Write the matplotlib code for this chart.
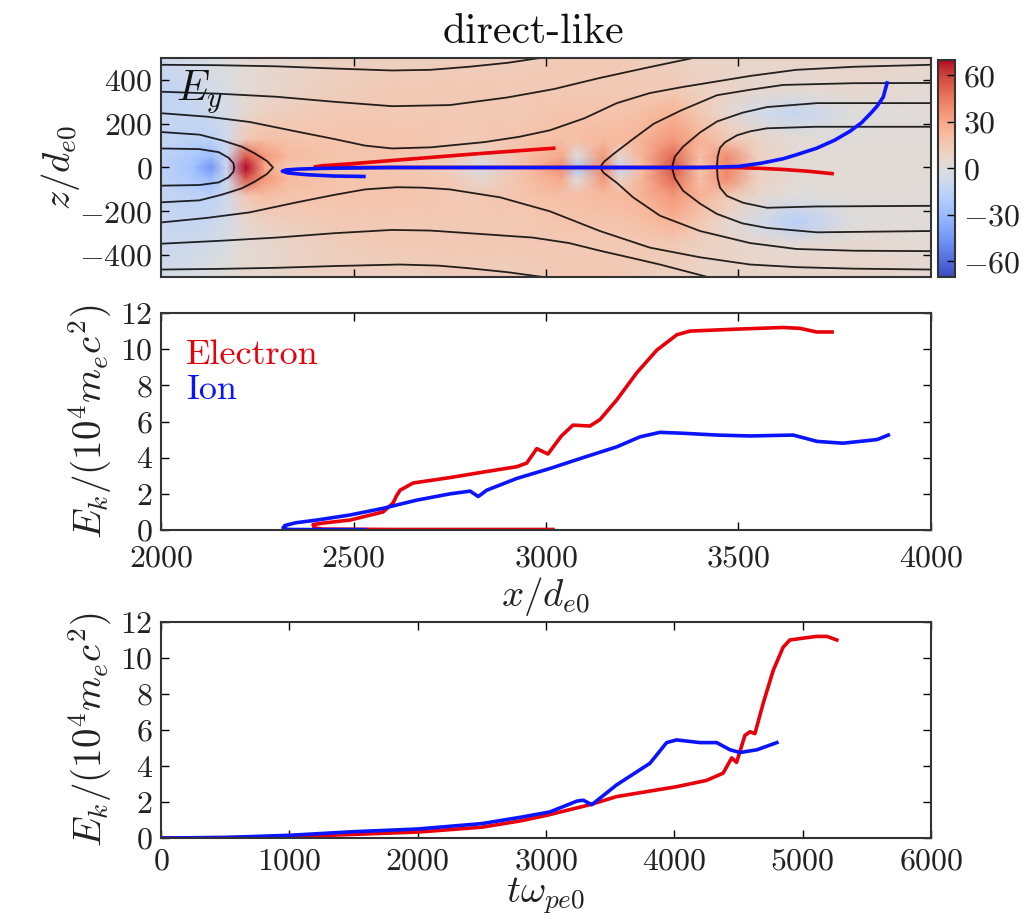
import numpy as np
import matplotlib
matplotlib.use("Agg")
import matplotlib.pyplot as plt

################################################################################
# Style
################################################################################
plt.rcParams["font.family"]                 = "serif"
plt.rcParams["font.serif"]                  = ["cmr10"]
plt.rcParams["mathtext.fontset"]            = "cm"
plt.rcParams["axes.formatter.use_mathtext"] = True
plt.rcParams["axes.unicode_minus"]          = True

TICK_SIZE   = 23
LABEL_SIZE  = 28
TEXT_COLOR  = "#222222"
RED         = "#e8000b"
BLUE        = "#0a14ff"

################################################################################
# Data
################################################################################

########################################
# E_y field (values read on a coarse grid)
########################################
ey_x_nodes = [2000, 2080, 2130, 2170, 2220, 2270, 2330, 2450, 2600, 2750, 2830,
              2950, 3040, 3080, 3150, 3190, 3250, 3330, 3400, 3470, 3550, 3650,
              3800, 4000]
ey_z_nodes = [-500, -350, -250, -130, -50, 0, 50, 130, 250, 350, 500]

# one column of values (bottom to top) per x node
ey_columns = [
    [-5, -10, -10, -12, -15, -15, -15, -12, -12, -15, -8],
    [-3, -8, -12, -15, -22, -25, -22, -15, -12, -10, -5],
    [0, -5, -10, -15, -30, -45, -30, -15, -8, -5, -2],
    [2, -2, -5, -8, -10, -10, -10, -8, -5, -2, 0],
    [5, 3, 5, 15, 55, 70, 55, 15, 5, 3, 3],
    [5, 5, 10, 20, 35, 30, 35, 20, 10, 5, 5],
    [8, 8, 12, 18, 22, 15, 22, 18, 12, 8, 6],
    [10, 12, 15, 18, 18, 18, 18, 18, 15, 12, 10],
    [10, 15, 15, 18, 18, 15, 18, 18, 15, 15, 10],
    [12, 15, 15, 15, 15, 10, 15, 15, 15, 15, 12],
    [12, 15, 15, 15, 5, -5, 5, 15, 15, 15, 12],
    [12, 15, 15, 18, 20, 20, 20, 18, 15, 15, 12],
    [15, 15, 18, 20, 30, 40, 30, 20, 18, 15, 15],
    [15, 15, 18, 20, 0, -25, 0, 20, 18, 15, 15],
    [15, 15, 18, 22, 35, 40, 35, 22, 18, 15, 15],
    [15, 15, 18, 22, 5, -15, 5, 22, 18, 15, 15],
    [12, 15, 20, 25, 25, 20, 25, 25, 20, 15, 12],
    [10, 15, 25, 35, 50, 55, 50, 35, 25, 15, 10],
    [8, 10, 15, 25, 20, 15, 20, 25, 15, 10, 8],
    [8, 8, 5, 15, 40, 40, 40, 15, 5, 8, 8],
    [8, 5, -5, 5, 10, 8, 10, 8, -5, 5, 8],
    [8, 3, -18, 0, 3, 3, 3, 3, -12, 3, 8],
    [8, 5, 0, 2, 3, 3, 3, 2, 0, 5, 8],
    [5, 3, 2, 2, 3, 3, 3, 2, 2, 3, 5],
]

########################################
# Magnetic field lines (x, z)
########################################
field_lines_x = [
    [2000, 2150, 2300, 2450, 2600, 2700, 2800, 2900, 2984],
    [2000, 2150, 2300, 2450, 2600, 2750, 2900, 3020, 3140, 3260, 3382],
    [2000, 2120, 2230, 2350, 2450, 2530, 2600, 2700, 2840, 2930, 3010, 3100,
     3184, 3270, 3356, 3440, 3530, 3650, 3800, 4000],
    [2000, 2100, 2158, 2210, 2244, 2275, 2291, 2275, 2244, 2210, 2158, 2100, 2000],
    [2000, 2100, 2150, 2175, 2188, 2190, 2188, 2175, 2150, 2100, 2000],
    [2000, 2150, 2300, 2450, 2620, 2720, 2800, 2900, 2992],
    [2000, 2150, 2300, 2450, 2600, 2700, 2800, 2966, 3060, 3140, 3220, 3296, 3420],
    [2000, 2120, 2230, 2350, 2450, 2530, 2613, 2680, 2750, 2880, 3010, 3140,
     3270, 3400, 3530, 3650, 3800, 4000],
    [4000, 3800, 3616, 3530, 3444, 3350, 3280, 3226, 3174, 3150, 3140,
     3150, 3184, 3226, 3296, 3400, 3530, 3650, 3800, 4000],
    [4000, 3704, 3574, 3510, 3444, 3400, 3356, 3335, 3327,
     3335, 3356, 3400, 3444, 3510, 3574, 3704, 4000],
    [4000, 3700, 3574, 3530, 3496, 3465, 3452, 3446, 3444, 3446, 3452, 3470,
     3512, 3574, 3700, 4000],
]
field_lines_z = [
    [469, 467, 462, 452, 443, 446, 460, 478, 500],
    [346, 337, 323, 300, 280, 285, 320, 358, 409, 455, 500],
    [248, 232, 208, 165, 130, 100, 87, 92, 116, 140, 170, 225,
     294, 340, 368, 392, 418, 446, 460, 469],
    [162, 150, 124, 95, 64, 30, 0, -30, -64, -95, -124, -150, -159],
    [87, 84, 70, 45, 20, 0, -20, -45, -68, -80, -83],
    [-466, -463, -458, -450, -443, -448, -460, -478, -500],
    [-348, -335, -320, -300, -285, -288, -300, -320, -345, -380, -412, -443, -500],
    [-251, -230, -205, -160, -125, -100, -90, -92, -100, -136, -200, -290,
     -366, -410, -443, -455, -462, -466],
    [386, 385, 377, 355, 330, 260, 200, 130, 60, 25, 0,
     -25, -70, -136, -220, -290, -345, -372, -380, -382],
    [294, 294, 276, 250, 210, 160, 95, 50, 0,
     -50, -106, -165, -212, -255, -276, -296, -290],
    [186, 186, 179, 165, 147, 115, 90, 50, 0, -50, -92, -130,
     -161, -184, -178, -175],
]

########################################
# Particle trajectories in the x-z plane
########################################
ion_x_traj  = [2527, 2450, 2380, 2330, 2315, 2325, 2360, 2420, 2500, 2600,
               2800, 3000, 3200, 3400, 3450, 3500, 3560, 3616, 3650, 3703,
               3750, 3789, 3820, 3842, 3860, 3876, 3886]
ion_z_traj  = [-41, -39, -33, -25, -17, -11, -7, -4, -2, 0,
               0, 0, 0, 0, 2, 5, 20, 40, 58, 88, 125, 165, 205, 245, 280,
               322, 386]

electron_x_traj_1   = [3010, 2800, 2600, 2420, 2400, 2420, 2500, 2600, 2700,
                       2800, 2900, 3020]
electron_z_traj_1   = [0, 0, 0, 0, 3, 8, 18, 32, 46, 60, 73, 88]
electron_x_traj_2   = [3020, 3200, 3400, 3486, 3560, 3616, 3680, 3743]
electron_z_traj_2   = [0, 0, 0, 0, -4, -9, -17, -28]

########################################
# Kinetic energy vs x
########################################
electron_x  = [3018, 2800, 2600, 2420, 2398, 2395, 2420, 2491, 2577, 2603,
               2612, 2621, 2655, 2751, 2836, 2924, 2950, 2976, 3005, 3040,
               3070, 3114, 3140, 3184, 3236, 3288, 3340, 3374, 3486, 3616,
               3660, 3703, 3743]
electron_ek_x = [0.03, 0.03, 0.03, 0.05, 0.12, 0.3, 0.38, 0.55, 1.0, 1.5,
                 1.9, 2.2, 2.6, 2.9, 3.2, 3.5, 3.7, 4.5, 4.2, 5.2,
                 5.8, 5.75, 6.1, 7.2, 8.7, 9.95, 10.8, 11.0, 11.1, 11.2,
                 11.15, 10.95, 10.95]

ion_x       = [2530, 2420, 2330, 2317, 2322, 2350, 2405, 2491, 2577, 2664,
               2751, 2803, 2824, 2846, 2924, 3010, 3096, 3184, 3244, 3296,
               3356, 3444, 3530, 3642, 3704, 3771, 3860, 3889]
ion_ek_x    = [0.02, 0.02, 0.03, 0.12, 0.25, 0.4, 0.55, 0.83, 1.2, 1.65,
               2.0, 2.15, 1.85, 2.2, 2.85, 3.4, 4.0, 4.6, 5.15, 5.4,
               5.35, 5.25, 5.2, 5.25, 4.9, 4.8, 5.0, 5.25]

########################################
# Kinetic energy vs time
########################################
electron_t  = [0, 500, 1000, 1500, 2000, 2500, 2800, 3000, 3343, 3550, 4017,
               4251, 4380, 4447, 4485, 4550, 4590, 4628, 4693, 4770, 4848,
               4900, 5000, 5110, 5190, 5266]
electron_ek_t = [0, 0.02, 0.07, 0.2, 0.33, 0.6, 0.95, 1.25, 1.85, 2.3, 2.85,
                 3.2, 3.6, 4.45, 4.2, 5.7, 5.9, 5.8, 7.5, 9.3, 10.6,
                 11.0, 11.1, 11.2, 11.2, 11.0]

ion_t       = [0, 500, 1000, 1500, 2000, 2500, 2800, 3031, 3241, 3290, 3357,
               3550, 3810, 3940, 4017, 4200, 4330, 4434, 4512, 4643, 4799]
ion_ek_t    = [0, 0.03, 0.15, 0.35, 0.5, 0.8, 1.15, 1.45, 2.05, 2.1, 1.85,
               2.95, 4.15, 5.3, 5.45, 5.3, 5.3, 4.9, 4.75, 4.9, 5.3]

################################################################################
# Figure
################################################################################
W, H = 1036, 922
fig = plt.figure(figsize=(W / 100, H / 100), dpi=100)


def pix_axes(x0, y0, x1, y1):
    return fig.add_axes([x0 / W, 1 - y1 / H, (x1 - x0) / W, (y1 - y0) / H])


def style_axes(ax):
    ax.tick_params(direction="in", top=True, right=True, length=6, width=1,
                   labelsize=TICK_SIZE, labelcolor=TEXT_COLOR, pad=6)
    for sp in ax.spines.values():
        sp.set_linewidth(1.5)
        sp.set_color("#333333")


ax_top  = pix_axes(161, 58, 931, 277)
cax     = pix_axes(938, 60, 955, 277)
ax_mid  = pix_axes(161, 313, 931, 530)
ax_bot  = pix_axes(161, 622, 931, 838)

########################################
# Top panel: E_y map
########################################
ey_grid = np.array(ey_columns).T
mesh = ax_top.pcolormesh(ey_x_nodes, ey_z_nodes, ey_grid, shading="gouraud",
                         cmap="coolwarm", vmin=-70, vmax=70, rasterized=True)
for lx, lz in zip(field_lines_x, field_lines_z):
    ax_top.plot(lx, lz, color="black", lw=1.3, alpha=0.85)

ax_top.plot(electron_x_traj_1, electron_z_traj_1, color=RED, lw=2.6)
ax_top.plot(electron_x_traj_2, electron_z_traj_2, color=RED, lw=2.6)
ax_top.plot(ion_x_traj, ion_z_traj, color=BLUE, lw=2.6)

ax_top.set_xlim(2000, 4000)
ax_top.set_ylim(-500, 500)
ax_top.set_xticks([2500, 3000, 3500])
ax_top.set_xticklabels([])
ax_top.set_yticks([-400, -200, 0, 200, 400])
ax_top.set_ylabel(r"$z/d_{e0}$", fontsize=LABEL_SIZE, color=TEXT_COLOR,
                  labelpad=-2)
style_axes(ax_top)
ax_top.text(0.02, 0.95, r"$E_y$", transform=ax_top.transAxes, fontsize=30,
            va="top", ha="left", color="#111111")

cbar = fig.colorbar(mesh, cax=cax, ticks=[-60, -30, 0, 30, 60])
cax.tick_params(direction="in", length=6, width=1, labelsize=TICK_SIZE,
                labelcolor=TEXT_COLOR, pad=6)
cbar.outline.set_linewidth(1.5)
cbar.outline.set_edgecolor("#333333")

########################################
# Middle panel: E_k vs x
########################################
ax_mid.plot(electron_x, electron_ek_x, color=RED, lw=2.6, label="Electron")
ax_mid.plot(ion_x, ion_ek_x, color=BLUE, lw=2.6, label="Ion")
ax_mid.set_xlim(2000, 4000)
ax_mid.set_ylim(0, 12)
ax_mid.set_xticks([2000, 2500, 3000, 3500, 4000])
ax_mid.set_yticks([0, 2, 4, 6, 8, 10, 12])
ax_mid.set_xlabel(r"$x/d_{e0}$", fontsize=LABEL_SIZE, color=TEXT_COLOR,
                  labelpad=2)
ax_mid.set_ylabel(r"$E_k/(10^4m_ec^2)$", fontsize=LABEL_SIZE, color=TEXT_COLOR)
style_axes(ax_mid)
ax_mid.tick_params(axis="x", pad=11)
ax_mid.legend(loc="upper left", frameon=False, handlelength=0,
              handletextpad=0, labelcolor="linecolor", fontsize=26,
              borderaxespad=0.3, labelspacing=0.1)

########################################
# Bottom panel: E_k vs t
########################################
ax_bot.plot(electron_t, electron_ek_t, color=RED, lw=2.6)
ax_bot.plot(ion_t, ion_ek_t, color=BLUE, lw=2.6)
ax_bot.set_xlim(0, 6000)
ax_bot.set_ylim(0, 12)
ax_bot.set_xticks([0, 1000, 2000, 3000, 4000, 5000, 6000])
ax_bot.set_yticks([0, 2, 4, 6, 8, 10, 12])
ax_bot.set_xlabel(r"$t\omega_{pe0}$", fontsize=LABEL_SIZE, color=TEXT_COLOR,
                  labelpad=0)
ax_bot.set_ylabel(r"$E_k/(10^4m_ec^2)$", fontsize=LABEL_SIZE, color=TEXT_COLOR)
style_axes(ax_bot)
ax_bot.tick_params(axis="x", pad=7)

fig.text(533 / W, 1 - 32 / H, "direct-like", fontsize=30, ha="center",
         va="center", color="#111111")

fig.savefig("out.png", dpi=100)
